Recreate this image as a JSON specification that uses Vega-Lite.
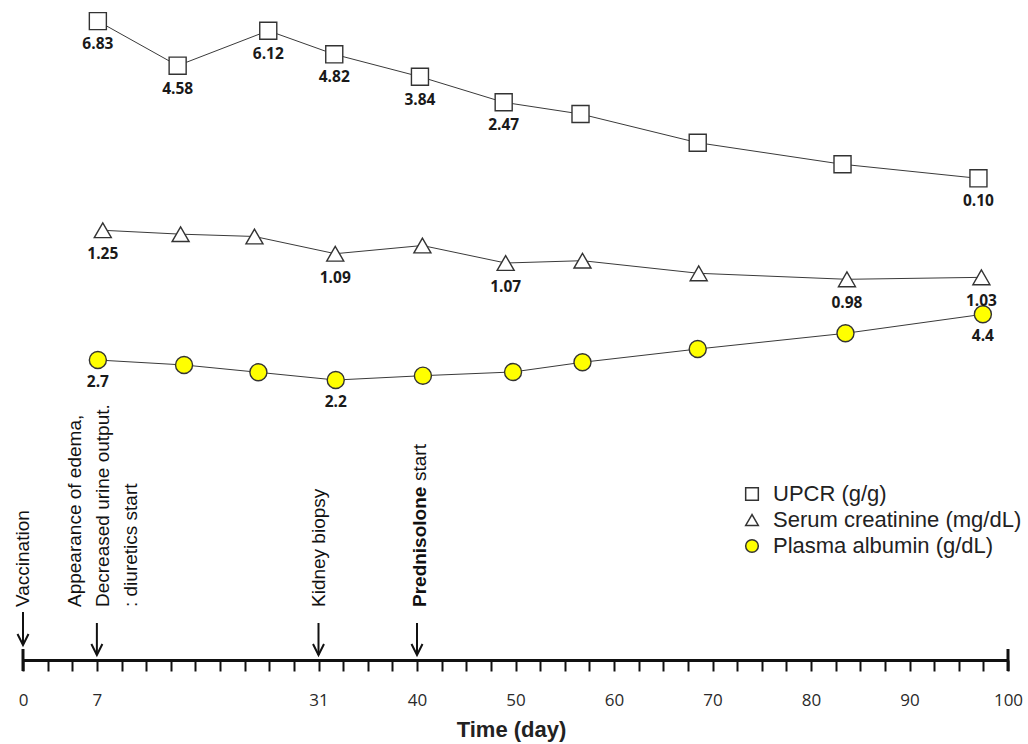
{
  "$schema": "https://vega.github.io/schema/vega-lite/v6.json",
  "width": 985,
  "height": 660,
  "autosize": {"type": "none"},
  "padding": {"left": 23, "top": 0, "right": 20, "bottom": 84},
  "background": "white",
  "config": {"view": {"stroke": null}},
  "datasets": {
    "measurements": [
      {"series": "UPCR (g/g)", "day": 7.6, "level": 96.8, "label": "6.83"},
      {"series": "UPCR (g/g)", "day": 15.7, "level": 90.05, "label": "4.58"},
      {"series": "UPCR (g/g)", "day": 24.9, "level": 95.35, "label": "6.12"},
      {"series": "UPCR (g/g)", "day": 31.6, "level": 91.77, "label": "4.82"},
      {"series": "UPCR (g/g)", "day": 40.3, "level": 88.38, "label": "3.84"},
      {"series": "UPCR (g/g)", "day": 48.8, "level": 84.5, "label": "2.47"},
      {"series": "UPCR (g/g)", "day": 56.6, "level": 82.73, "label": null},
      {"series": "UPCR (g/g)", "day": 68.5, "level": 78.38, "label": null},
      {"series": "UPCR (g/g)", "day": 83.2, "level": 75.11, "label": null},
      {"series": "UPCR (g/g)", "day": 97.0, "level": 72.98, "label": "0.10"},
      {"series": "Serum creatinine (mg/dL)", "day": 8.1, "level": 65.11, "label": "1.25"},
      {"series": "Serum creatinine (mg/dL)", "day": 16.0, "level": 64.52, "label": null},
      {"series": "Serum creatinine (mg/dL)", "day": 23.5, "level": 64.17, "label": null},
      {"series": "Serum creatinine (mg/dL)", "day": 31.7, "level": 61.56, "label": "1.09"},
      {"series": "Serum creatinine (mg/dL)", "day": 40.55, "level": 62.8, "label": null},
      {"series": "Serum creatinine (mg/dL)", "day": 49.0, "level": 60.15, "label": "1.07"},
      {"series": "Serum creatinine (mg/dL)", "day": 56.8, "level": 60.5, "label": null},
      {"series": "Serum creatinine (mg/dL)", "day": 68.6, "level": 58.59, "label": null},
      {"series": "Serum creatinine (mg/dL)", "day": 83.65, "level": 57.68, "label": "0.98"},
      {"series": "Serum creatinine (mg/dL)", "day": 97.3, "level": 57.98, "label": "1.03"},
      {"series": "Plasma albumin (g/dL)", "day": 7.6, "level": 45.45, "label": "2.7"},
      {"series": "Plasma albumin (g/dL)", "day": 16.35, "level": 44.7, "label": null},
      {"series": "Plasma albumin (g/dL)", "day": 23.9, "level": 43.59, "label": null},
      {"series": "Plasma albumin (g/dL)", "day": 31.75, "level": 42.42, "label": "2.2"},
      {"series": "Plasma albumin (g/dL)", "day": 40.6, "level": 43.08, "label": null},
      {"series": "Plasma albumin (g/dL)", "day": 49.75, "level": 43.64, "label": null},
      {"series": "Plasma albumin (g/dL)", "day": 56.8, "level": 45.11, "label": null},
      {"series": "Plasma albumin (g/dL)", "day": 68.5, "level": 47.12, "label": null},
      {"series": "Plasma albumin (g/dL)", "day": 83.5, "level": 49.5, "label": null},
      {"series": "Plasma albumin (g/dL)", "day": 97.45, "level": 52.38, "label": "4.4"}
    ],
    "events": [
      {"day": 0, "event": "Vaccination"},
      {"day": 7.5, "event": "Appearance of edema,\nDecreased urine output.\n: diuretics start"},
      {"day": 30, "event": "Kidney biopsy"},
      {"day": 40, "event": "Prednisolone"}
    ],
    "ends": [{"day": 0}, {"day": 100}]
  },
  "encoding": {
    "x": {
      "field": "day",
      "type": "quantitative",
      "scale": {"domain": [0, 100], "nice": false, "zero": false},
      "axis": {
        "title": "Time (day)",
        "values": [0, 2.5, 5, 7.5, 10, 12.5, 15, 17.5, 20, 22.5, 25, 27.5, 30, 32.5, 35, 37.5, 40, 42.5, 45, 47.5, 50, 52.5, 55, 57.5, 60, 62.5, 65, 67.5, 70, 72.5, 75, 77.5, 80, 82.5, 85, 87.5, 90, 92.5, 95, 97.5, 100],
        "labelExpr": "datum.value == 0 ? '0' : datum.value == 7.5 ? '7' : datum.value == 30 ? '31' : (datum.value >= 40 && datum.value % 10 == 0) ? datum.label : ''",
        "labelOverlap": false,
        "labelFlush": false,
        "labelFont": "Open Sans",
        "labelFontSize": 17,
        "labelColor": "#2a2a2a",
        "labelPadding": 21,
        "tickSize": 11,
        "tickWidth": 2,
        "tickColor": "#111",
        "domainWidth": 3,
        "domainColor": "#111",
        "grid": false,
        "titleFont": "Liberation Sans",
        "titleFontWeight": "bold",
        "titleFontSize": 22,
        "titleColor": "#222",
        "titlePadding": 11,
        "titleX": 488
      }
    }
  },
  "layer": [
    {
      "data": {"name": "measurements"},
      "mark": {"type": "line", "stroke": "#3a3a3a", "strokeWidth": 1},
      "encoding": {
        "y": {"field": "level", "type": "quantitative", "scale": {"domain": [0, 100], "nice": false, "zero": false}, "axis": null},
        "detail": {"field": "series", "type": "nominal"},
        "order": {"field": "day", "type": "quantitative"}
      }
    },
    {
      "data": {"name": "measurements"},
      "mark": {"type": "point", "filled": true, "size": 290, "stroke": "#333", "strokeWidth": 1.4, "opacity": 1},
      "encoding": {
        "y": {"field": "level", "type": "quantitative", "axis": null},
        "shape": {
          "field": "series", "type": "nominal",
          "scale": {"domain": ["UPCR (g/g)", "Serum creatinine (mg/dL)", "Plasma albumin (g/dL)"], "range": ["square", "triangle-up", "circle"]},
          "legend": {"title": null, "orient": "none", "legendX": 718, "legendY": 483, "padding": 0, "labelFont": "Liberation Sans", "labelFontSize": 22, "labelColor": "#222", "labelLimit": 500, "symbolSize": 160, "labelOffset": 10, "rowPadding": 4,
            "encode": {"symbols": {"update": {"fill": {"signal": "datum.value == 'Plasma albumin (g/dL)' ? '#ffff00' : '#ffffff'"}, "stroke": {"value": "#222"}, "strokeWidth": {"value": 1.3}, "opacity": {"value": 1}}}}}
        },
        "fill": {
          "field": "series", "type": "nominal",
          "scale": {"domain": ["UPCR (g/g)", "Serum creatinine (mg/dL)", "Plasma albumin (g/dL)"], "range": ["#ffffff", "#ffffff", "#ffff00"]},
          "legend": null
        }
      }
    },
    {
      "data": {"name": "measurements"},
      "transform": [{"filter": "isValid(datum.label) && datum.series == 'UPCR (g/g)'"}],
      "mark": {"type": "text", "font": "Open Sans", "fontWeight": "bold", "fontSize": 15.5, "color": "#1a1a1a", "baseline": "middle", "dy": 23},
      "encoding": {
        "y": {"field": "level", "type": "quantitative", "axis": null},
        "text": {"field": "label", "type": "nominal"}
      }
    },
    {
      "data": {"name": "measurements"},
      "transform": [{"filter": "isValid(datum.label) && datum.series == 'Serum creatinine (mg/dL)'"}],
      "mark": {"type": "text", "font": "Open Sans", "fontWeight": "bold", "fontSize": 15.5, "color": "#1a1a1a", "baseline": "middle", "dy": 24},
      "encoding": {
        "y": {"field": "level", "type": "quantitative", "axis": null},
        "text": {"field": "label", "type": "nominal"}
      }
    },
    {
      "data": {"name": "measurements"},
      "transform": [{"filter": "isValid(datum.label) && datum.series == 'Plasma albumin (g/dL)'"}],
      "mark": {"type": "text", "font": "Open Sans", "fontWeight": "bold", "fontSize": 15.5, "color": "#1a1a1a", "baseline": "middle", "dy": 22},
      "encoding": {
        "y": {"field": "level", "type": "quantitative", "axis": null},
        "text": {"field": "label", "type": "nominal"}
      }
    },
    {
      "data": {"name": "ends"},
      "mark": {"type": "rule", "color": "#111", "strokeWidth": 3},
      "encoding": {
        "y": {"datum": 1.67, "axis": null},
        "y2": {"datum": -1.67}
      }
    },
    {
      "data": {"name": "events"},
      "transform": [{"filter": "datum.day > 0"}],
      "mark": {"type": "rule", "color": "#111", "strokeWidth": 2},
      "encoding": {
        "y": {"datum": 5.61, "axis": null},
        "y2": {"datum": 0.76}
      }
    },
    {
      "data": {"name": "events"},
      "transform": [{"filter": "datum.day == 0"}],
      "mark": {"type": "rule", "color": "#111", "strokeWidth": 2},
      "encoding": {
        "y": {"datum": 7.27, "axis": null},
        "y2": {"datum": 2.27}
      }
    },
    {
      "data": {"name": "events"},
      "transform": [{"filter": "datum.day > 0"}],
      "mark": {"type": "point", "shape": "M-0.5,-1L0,0L0.5,-1", "filled": false, "size": 484, "stroke": "#111", "strokeWidth": 2, "opacity": 1},
      "encoding": {
        "y": {"datum": 0.76, "axis": null}
      }
    },
    {
      "data": {"name": "events"},
      "transform": [{"filter": "datum.day == 0"}],
      "mark": {"type": "point", "shape": "M-0.5,-1L0,0L0.5,-1", "filled": false, "size": 484, "stroke": "#111", "strokeWidth": 2, "opacity": 1},
      "encoding": {
        "y": {"datum": 2.27, "axis": null}
      }
    },
    {
      "data": {"name": "events"},
      "transform": [{"filter": "datum.day == 0 || datum.day == 30"}],
      "mark": {"type": "text", "angle": 270, "align": "left", "baseline": "middle", "font": "Liberation Sans", "fontSize": 19, "color": "#111"},
      "encoding": {
        "y": {"datum": 8.03, "axis": null},
        "text": {"field": "event", "type": "nominal"}
      }
    },
    {
      "data": {"name": "events"},
      "transform": [{"filter": "datum.day == 7.5"}],
      "mark": {"type": "text", "angle": 270, "align": "left", "baseline": "middle", "font": "Liberation Sans", "fontSize": 19, "color": "#111", "lineBreak": "\n", "lineHeight": 28, "dy": -22},
      "encoding": {
        "y": {"datum": 8.03, "axis": null},
        "text": {"field": "event", "type": "nominal"}
      }
    },
    {
      "data": {"name": "events"},
      "transform": [{"filter": "datum.day == 40"}],
      "mark": {"type": "text", "angle": 270, "align": "left", "baseline": "middle", "font": "Liberation Sans", "fontSize": 19, "fontWeight": "bold", "color": "#111", "dy": 3},
      "encoding": {
        "y": {"datum": 8.03, "axis": null},
        "text": {"field": "event", "type": "nominal"}
      }
    },
    {
      "data": {"name": "events"},
      "transform": [{"filter": "datum.day == 40"}],
      "mark": {"type": "text", "angle": 270, "align": "left", "baseline": "middle", "font": "Liberation Sans", "fontSize": 19, "color": "#111", "dy": 3, "dx": 126, "text": "start"},
      "encoding": {
        "y": {"datum": 8.03, "axis": null}
      }
    }
  ]
}
